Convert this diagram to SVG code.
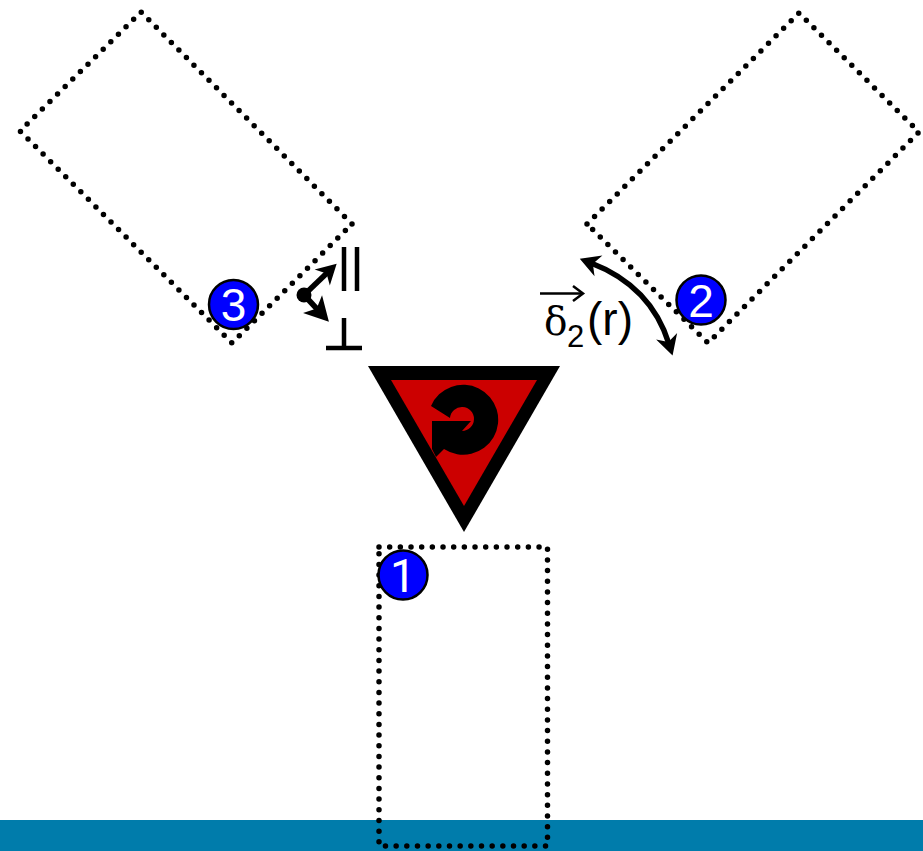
<svg xmlns="http://www.w3.org/2000/svg" width="923" height="851" viewBox="0 0 923 851">
<style>
.dot{fill:none;stroke:#000;stroke-width:5.5;stroke-linecap:round;stroke-dasharray:0 10.67}
.badge{fill:#0000ff;stroke:#000;stroke-width:2.5}
.num{font-family:"Liberation Sans",Arial,sans-serif;font-size:46px;fill:#fff;text-anchor:middle}
.lbl{font-family:"Liberation Sans",Arial,sans-serif;font-size:46px;fill:#000}
.ln{fill:none;stroke:#000;stroke-width:4.5}
.ar{fill:none;stroke:#000;stroke-width:5.5}
</style>
<defs>
<marker id="head" markerUnits="userSpaceOnUse" markerWidth="30" markerHeight="30" refX="13" refY="15" orient="auto-start-reverse" viewBox="0 0 30 30">
<path d="M25 15L5 4L11 15L5 26Z" fill="#000"/>
</marker>
<marker id="headL" markerUnits="userSpaceOnUse" markerWidth="34" markerHeight="34" refX="12" refY="17" orient="auto" viewBox="0 0 34 34">
<path d="M28 17L4 4L10 17L4 30Z" fill="#000"/>
</marker>
</defs>
<rect id="surface" x="0" y="820" width="923" height="31" fill="#007cab"/>
<g id="rect1"><rect class="dot" x="379" y="547" width="168.500" height="299"/></g>
<g id="rect2"><path class="dot" d="M587 224L799 13L919 132L708 343Z"/></g>
<g id="rect3"><path class="dot" d="M352 224L141 12L20 131L232 343Z"/></g>
<g id="triangle">
<path d="M368 366H560L464 532Z" fill="#000"/>
<path d="M391 380H537L464 506Z" fill="#cc0000"/>
<path d="M431 406A35 35 0 1 1 444 449L436 457L432 449V421H471L462 431A12 12 0 1 0 450 418Z" fill="#000"/>
</g>
<g id="connectors">
<path class="ar" d="M591 263Q651 286 669 344" marker-start="url(#head)" marker-end="url(#head)"/>
<path class="ar" d="M304 295L328 272" marker-end="url(#head)"/>
<path class="ar" d="M304 295L318 310" marker-end="url(#headL)"/>
<circle cx="304" cy="295" r="7.500" fill="#000"/>
<path class="ln" d="M344 247V291M357 247V291"/>
<path class="ln" d="M344 318V348M326 348H362"/>
<path d="M540 293.500H582" fill="none" stroke="#000" stroke-width="2.500"/>
<path d="M573 286L583 293.500L573 301" fill="none" stroke="#000" stroke-width="2.500"/>
</g>
<g id="label-delta">
<text x="544" y="335" style="font-family:'DejaVu Serif',serif;font-size:39px">δ</text>
<text x="567" y="347" style="font-family:'Liberation Sans',Arial,sans-serif;font-size:31px">2</text>
<text class="lbl" x="587" y="335">(r)</text>
</g>
<g id="badge1"><circle class="badge" cx="403" cy="575" r="24.5"/><text class="num" x="403" y="592" style="font-family:Roboto,sans-serif">1</text></g>
<g id="badge2"><circle class="badge" cx="701" cy="300" r="24.5"/><text class="num" x="701" y="317">2</text></g>
<g id="badge3"><circle class="badge" cx="233.500" cy="304.500" r="24.5"/><text class="num" x="233.500" y="321">3</text></g>
</svg>
